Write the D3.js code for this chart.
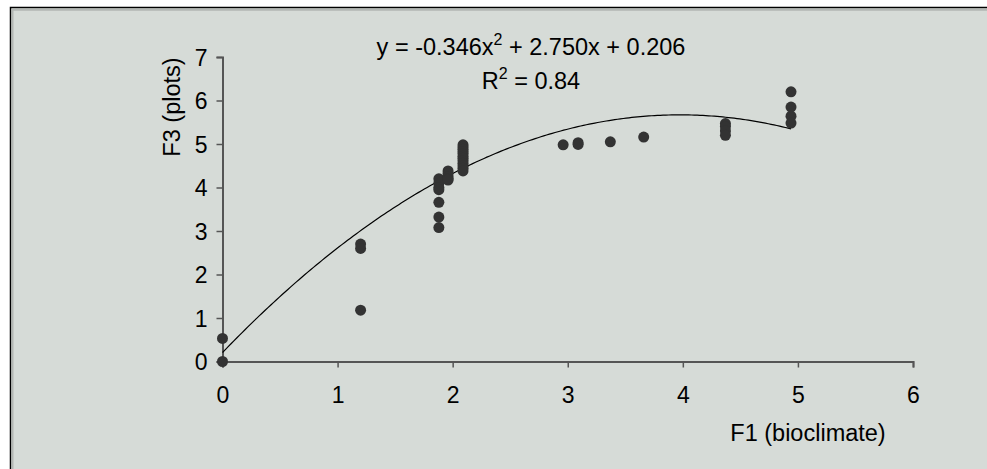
<!DOCTYPE html>
<html><head><meta charset="utf-8">
<script src="https://cdn.jsdelivr.net/npm/d3@7"></script>
<style>html,body{margin:0;padding:0;background:#fff}svg{display:block}text{font-family:"Liberation Sans",Arial,sans-serif;fill:#000}</style>
</head><body>
<svg id="c" width="987" height="469"></svg>
<script>
// Data
const xValues = [0,0, 1.2,1.2,1.2, 1.88,1.88,1.88,1.88,1.88,1.88,1.88, 1.96,1.96,1.96,1.96,1.96,
  2.09,2.09,2.09,2.09,2.09,2.09,2.09,2.09,2.09,2.09,2.09,2.09, 2.96, 3.09,3.09, 3.37, 3.66,
  4.37,4.37,4.37,4.37, 4.94,4.94,4.94,4.94];
const yValues = [0,0.53, 2.7,2.6,1.18, 4.2,4.1,4.0,3.95,3.66,3.32,3.08, 4.38,4.32,4.25,4.2,4.17,
  4.98,4.93,4.88,4.83,4.78,4.72,4.67,4.62,4.56,4.5,4.44,4.38, 4.98, 5.03,4.99, 5.05, 5.16,
  5.47,5.4,5.3,5.2, 6.2,5.85,5.64,5.48];
const trendCoef = [-0.346, 2.750, 0.206]; // a x^2 + b x + c
const xTicks = [0,1,2,3,4,5,6];
const yTicks = [0,1,2,3,4,5,6,7];
const equationText = ["y = -0.346x", "2", " + 2.750x + 0.206"];
const r2Text = ["R", "2", " = 0.84"];
const xTitle = "F1 (bioclimate)";
const yTitle = "F3 (plots)";

const svg = d3.select("#c");
svg.append("rect").attr("x",10.5).attr("y",7.5).attr("width",1000).attr("height",500)
  .attr("fill","#d6dbd7").attr("stroke","#000").attr("stroke-width",1.5);
svg.append("path").attr("d","M12.5,1000V9.8H1000").attr("fill","none").attr("stroke","#b3b7b4").attr("stroke-width",2);

const x = d3.scaleLinear().domain([0,6]).range([222.5,913]);
const y = d3.scaleLinear().domain([0,7]).range([361.5,57]);

const fs = 23;
const gx = svg.append("g").attr("transform","translate(0,361.5)")
  .call(d3.axisBottom(x).tickValues(xTicks).tickSize(6).tickPadding(19).tickFormat(d3.format("d")));
const gy = svg.append("g").attr("transform","translate(222.5,0)")
  .call(d3.axisLeft(y).tickValues(yTicks).tickSize(6).tickPadding(9).tickFormat(d3.format("d")));
[gx,gy].forEach(g=>{
  g.select(".domain").attr("stroke","#555").attr("stroke-width",2);
  g.selectAll(".tick line").attr("stroke","#555").attr("stroke-width",1.5);
  g.selectAll(".tick text").attr("font-size",fs).attr("font-family","Liberation Sans, Arial, sans-serif").attr("fill","#000");
});
gy.selectAll(".tick text").attr("dy","0.36em");

// trendline
const xMax = d3.max(xValues);
const curvePts = d3.range(0, 201).map(i => {
  const xv = xMax * i / 200;
  return [xv, trendCoef[0]*xv*xv + trendCoef[1]*xv + trendCoef[2]];
});
svg.append("path").datum(curvePts)
  .attr("d", d3.line().x(d=>x(d[0])).y(d=>y(d[1])))
  .attr("fill","none").attr("stroke","#000").attr("stroke-width",1.2);

// points
svg.append("g").selectAll("circle").data(xValues.map((v,i)=>[v,yValues[i]])).join("circle")
  .attr("cx",d=>x(d[0])).attr("cy",d=>y(d[1])).attr("r",5.5).attr("fill","#333");

function supText(parts, cx, by){
  const t = svg.append("text").attr("x",cx).attr("y",by).attr("text-anchor","middle").attr("font-size",23.5);
  t.append("tspan").text(parts[0]);
  t.append("tspan").attr("dy",-10).attr("font-size",16).text(parts[1]);
  t.append("tspan").attr("dy",10).text(parts[2]);
}
supText(equationText, 531, 55);
supText(r2Text, 531, 89);

svg.append("text").attr("x",808).attr("y",441).attr("text-anchor","middle").attr("font-size",23.5).text(xTitle);
svg.append("text").attr("transform","translate(180,107) rotate(-90)").attr("text-anchor","middle").attr("font-size",23.5).text(yTitle);
</script>
</body></html>
